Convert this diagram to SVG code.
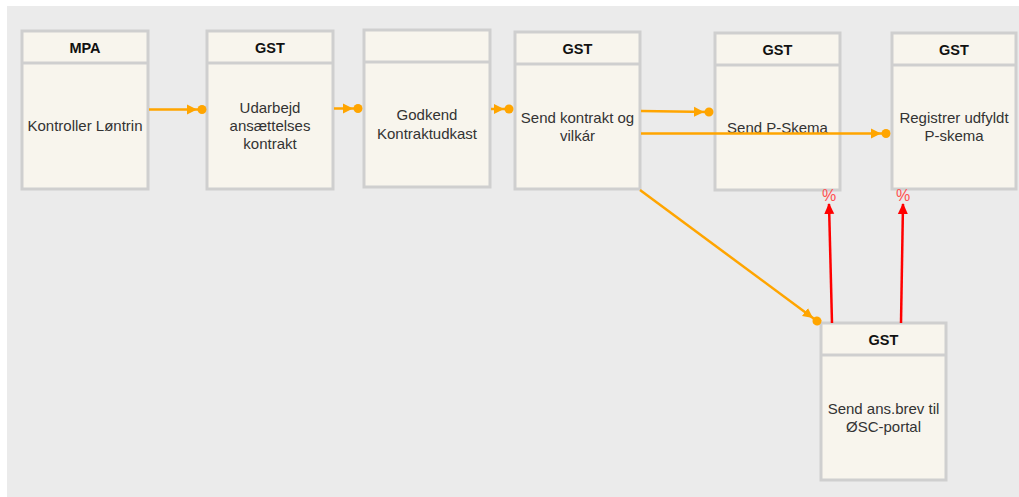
<svg xmlns="http://www.w3.org/2000/svg" width="1019" height="497" viewBox="0 0 1019 497">
<defs>
<style>
.box{fill:#f8f5ed;stroke:#cfcfcf;stroke-width:3}
.hdr{font-family:"Liberation Sans",Arial,sans-serif;font-size:14.5px;font-weight:bold;fill:#111;text-anchor:middle}
.lbl{font-family:"Liberation Sans",Arial,sans-serif;font-size:15px;fill:#333;text-anchor:middle}
.or{stroke:#ffa500;stroke-width:2.5;fill:none;marker-end:url(#od)}
.rd{stroke:#ff0000;stroke-width:2.5;fill:none;marker-end:url(#ra)}
.pct{font-family:"Liberation Sans",Arial,sans-serif;font-size:16px;fill:#ff5050;text-anchor:middle}
</style>
<marker id="od" markerUnits="userSpaceOnUse" markerWidth="22" markerHeight="12" viewBox="0 -6 22 12" refX="15" refY="0" orient="auto">
<path d="M0,-5 L10,0 L0,5 z" fill="#ffa500"/>
<circle cx="15" cy="0" r="4.5" fill="#ffa500"/>
</marker>
<marker id="ra" markerUnits="userSpaceOnUse" markerWidth="12" markerHeight="12" viewBox="0 -6 12 12" refX="10" refY="0" orient="auto">
<path d="M0,-5 L11,0 L0,5 z" fill="#ff0000"/>
</marker>
</defs>
<rect x="0" y="0" width="1019" height="497" fill="#ffffff"/>
<rect x="7" y="6" width="1012" height="491" fill="#ebebeb"/>

<g id="n1">
<rect class="box" x="22" y="31" width="126" height="158"/>
<line x1="22" y1="63" x2="148" y2="63" stroke="#cfcfcf" stroke-width="3"/>
<text class="hdr" x="85" y="53">MPA</text>
<text class="lbl" x="85" y="131">Kontroller Løntrin</text>
</g>

<g id="n2">
<rect class="box" x="207" y="31" width="126" height="158"/>
<line x1="207" y1="63" x2="333" y2="63" stroke="#cfcfcf" stroke-width="3"/>
<text class="hdr" x="270" y="53">GST</text>
<text class="lbl" x="270" y="113">Udarbejd</text>
<text class="lbl" x="270" y="131">ansættelses</text>
<text class="lbl" x="270" y="149">kontrakt</text>
</g>

<g id="n3">
<rect class="box" x="364" y="30" width="126" height="157"/>
<line x1="364" y1="62" x2="490" y2="62" stroke="#cfcfcf" stroke-width="3"/>
<text class="lbl" x="427" y="120">Godkend</text>
<text class="lbl" x="427" y="139">Kontraktudkast</text>
</g>

<g id="n4">
<rect class="box" x="515" y="32" width="125" height="157"/>
<line x1="515" y1="64" x2="640" y2="64" stroke="#cfcfcf" stroke-width="3"/>
<text class="hdr" x="577.5" y="54">GST</text>
<text class="lbl" x="577.5" y="123">Send kontrakt og</text>
<text class="lbl" x="577.5" y="141">vilkár</text>
</g>

<g id="n5">
<rect class="box" x="715" y="33" width="125" height="157"/>
<line x1="715" y1="65" x2="840" y2="65" stroke="#cfcfcf" stroke-width="3"/>
<text class="hdr" x="777.5" y="55">GST</text>
<text class="lbl" x="777.5" y="133">Send P-Skema</text>
</g>

<g id="n6">
<rect class="box" x="892" y="33" width="124" height="156"/>
<line x1="892" y1="65" x2="1016" y2="65" stroke="#cfcfcf" stroke-width="3"/>
<text class="hdr" x="954" y="55">GST</text>
<text class="lbl" x="954" y="123">Registrer udfyldt</text>
<text class="lbl" x="954" y="141">P-skema</text>
</g>

<g id="n7">
<rect class="box" x="821" y="323" width="125" height="157"/>
<line x1="821" y1="355" x2="946" y2="355" stroke="#cfcfcf" stroke-width="3"/>
<text class="hdr" x="883.5" y="345">GST</text>
<text class="lbl" x="883.5" y="414">Send ans.brev til</text>
<text class="lbl" x="883.5" y="432">ØSC-portal</text>
</g>

<g id="connectors">
<line class="or" x1="149" y1="109.5" x2="202" y2="109.5"/>
<line class="or" x1="334" y1="108.5" x2="358" y2="108.5"/>
<line class="or" x1="491" y1="109" x2="509" y2="109"/>
<line class="or" x1="641" y1="111" x2="709" y2="112"/>
<line class="or" x1="641" y1="133.5" x2="886" y2="133.5"/>
<line class="or" x1="640" y1="190" x2="817" y2="321"/>
<line class="rd" x1="832" y1="323" x2="829" y2="204"/>
<line class="rd" x1="901" y1="323" x2="903" y2="204"/>
<text class="pct" x="829" y="201">%</text>
<text class="pct" x="903" y="201">%</text>
</g>
</svg>
